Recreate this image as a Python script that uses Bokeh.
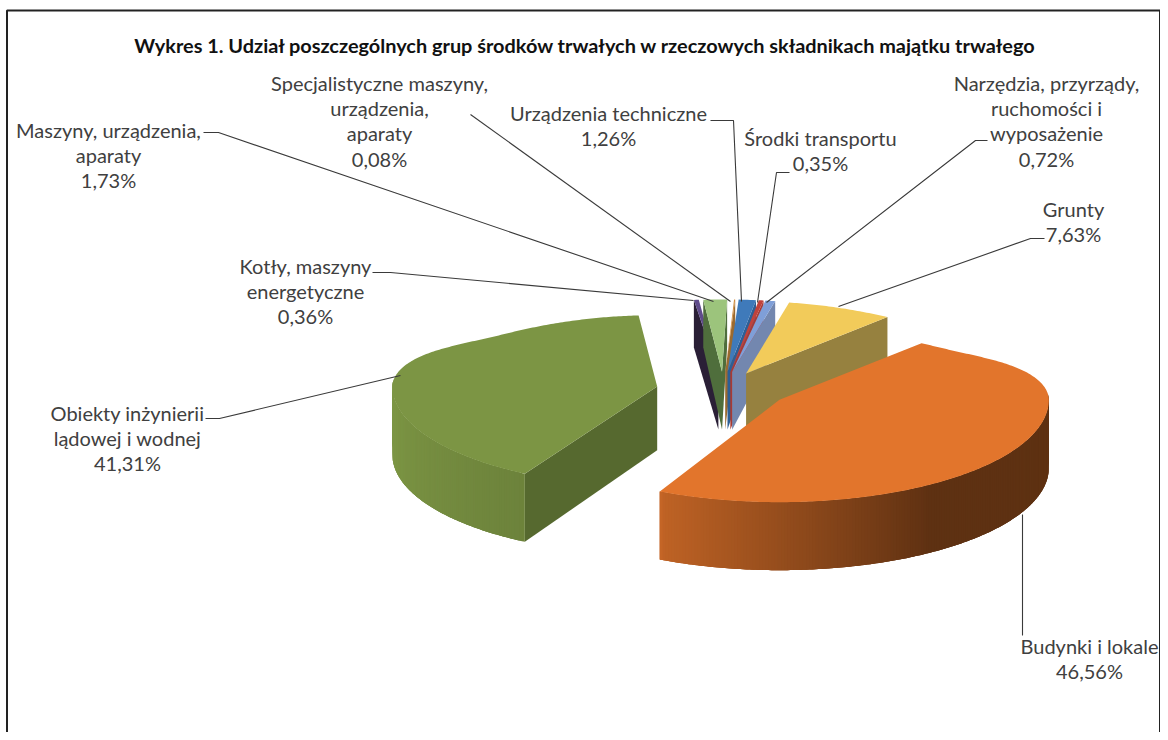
import math
from bokeh.plotting import figure
from bokeh.models import Range1d
from bokeh.core.properties import value
from bokeh.embed import file_html
from bokeh.resources import INLINE

title_text = "Wykres 1. Udział poszczególnych grup środków trwałych w rzeczowych składnikach majątku trwałego"
categories = ["Grunty", "Budynki i lokale", "Obiekty inżynierii lądowej i wodnej",
              "Kotły, maszyny energetyczne", "Maszyny, urządzenia, aparaty",
              "Specjalistyczne maszyny, urządzenia, aparaty", "Urządzenia techniczne",
              "Środki transportu", "Narzędzia, przyrządy, ruchomości i wyposażenie"]
shares = [7.63, 46.56, 41.31, 0.36, 1.73, 0.08, 1.26, 0.35, 0.72]
top_colors = ["#F2CB5A", "#E2752C", "#7C9544", "#5F4B8B", "#9CC47C", "#D08A3C", "#3F7ABA", "#C0423C", "#7F9FD8"]
cut_colors = ["#96813F", "#8A4A1C", "#56692F", "#2A1F36", "#4F6E3C", "#9A6A30", "#2D5F96", "#A83A34", "#7387AF"]

label_lines = [["Grunty", "7,63%"], ["Budynki i lokale", "46,56%"], ["Obiekty inżynierii", "lądowej i wodnej", "41,31%"],
               ["Kotły, maszyny", "energetyczne", "0,36%"], ["Maszyny, urządzenia,", "aparaty", "1,73%"],
               ["Specjalistyczne maszyny,", "urządzenia,", "aparaty", "0,08%"], ["Urządzenia techniczne", "1,26%"],
               ["Środki transportu", "0,35%"], ["Narzędzia, przyrządy,", "ruchomości i", "wyposażenie", "0,72%"]]
label_x = [1073, 1089, 127, 305, 108, 379, 608, 820, 1046]
label_y0 = [208, 645, 412, 265, 129, 82, 112, 137, 82]
leaders = [[(1044, 238), (1030, 238), (838, 306)], [(1022, 635), (1022, 514)], [(205, 418), (219, 418), (400, 375)],
           [(372, 272), (390, 272), (693, 300)], [(203, 132), (218, 132), (713, 301)], [(470, 114), (730, 301)],
           [(710, 120), (733, 120), (741, 301)], [(789, 172), (776, 172), (757, 302)], [(987, 140), (975, 140), (766, 302)]]

# projection of the tilted pie
FIRST_ANGLE = 11.3
CX, CY, R, K, EXPLODE, DEPTH = 722, 389.5, 268, 0.38, 67.6, 68
EXPLODE_K = 0.27
FAR_U, FAR_V, FAR_D = 0.18, 0.29, 0.30
# perspective correction of single slices
RIM_SCALE = [1, 1.005, 0.988, 1, 1, 1, 1, 1, 1]
START_SKEW = [0, 0, 3.6, 0, 0, 0, 0, 0, 0]
ANGLE_NUDGE = [0, 0, 0, -1.5, -1.3, -0.3, 0, 0, 0]


def smooth(x):
    x = min(1.0, max(x, 0.0))
    return x * x * (3 - 2 * x)


def su(y): return 1 - FAR_U * smooth(-y)
def sv(y): return 1 - FAR_V * smooth(-y / 0.75)


def rad(a): return math.radians(a)


def scale_color(hex_color, f):
    r, g, b = int(hex_color[1:3], 16), int(hex_color[3:5], 16), int(hex_color[5:7], 16)
    return "#%02x%02x%02x" % (int(r * f), int(g * f), int(b * f))


def shade(theta):
    t = theta % 360
    if t <= 146:
        return 0.42
    if t <= 206:
        return 0.42 + (t - 146) / 60 * 0.43
    return min(1.0, 0.87 + (t - 206) / 50 * 0.12)


slices = []
start = FIRST_ANGLE
for i, v in enumerate(shares):
    sweep = v * 3.6
    slices.append((i, start, start + sweep))
    start += sweep


def apex(mid):
    ym = -math.cos(rad(mid))
    return (CX + EXPLODE * math.sin(rad(mid)) * su(ym), CY + EXPLODE * EXPLODE_K * ym)


def rim(i, mid, th):
    ax, ay = apex(mid)
    th = th + ANGLE_NUDGE[i]
    y = -math.cos(rad(th))
    f = RIM_SCALE[i]
    return (ax + f * R * math.sin(rad(th)) * su(y), ay + f * R * K * y * sv(y))


def depth(mid, th, r):
    yt = (EXPLODE * -math.cos(rad(mid)) + r * -math.cos(rad(th))) / R
    return DEPTH * (1 - FAR_D * min(1, math.sqrt(max(-yt, 0))))


polys_x, polys_y, polys_c = [], [], []


def add(points, color):
    polys_x.append([p[0] for p in points])
    polys_y.append([p[1] for p in points])
    polys_c.append(color)


def draw_slice(i, a0, a1):
    mid = (a0 + a1) / 2
    ax, ay = apex(mid)
    a0 = a0 + START_SKEW[i]
    n = max(2, int((a1 - a0) * 1.5))
    ths = [a0 + (a1 - a0) * j / n for j in range(n + 1)]
    # radial cut faces
    for th, vis in ((a0, math.sin(rad(a0)) < 0), (a1, math.sin(rad(a1)) > 0)):
        if vis:
            x, y = rim(i, mid, th)
            da, dr = depth(mid, th, 0), depth(mid, th, R)
            add([(ax, ay), (x, y), (x, y + dr), (ax, ay + da)], cut_colors[i])
    # outer wall, each strip overlapping the next one so that no seams show
    strips = [j for j in range(n) if math.cos(rad((ths[j] + ths[j + 1]) / 2)) < 0.05]
    for j in strips:
        t0, t1 = ths[j], ths[min(j + 3, n)]
        part = [ths[j] + (t1 - t0) * q / 3 for q in range(4)]
        up = [rim(i, mid, t) for t in part]
        low = [(rim(i, mid, t)[0], rim(i, mid, t)[1] + depth(mid, t, R)) for t in reversed(part)]
        add(up + low, scale_color(top_colors[i], shade(ths[j] + 0.3)))
    # top face
    add([(ax, ay)] + [rim(i, mid, t) for t in ths], top_colors[i])


order = [3, 4, 5, 6, 7, 8, 0, 2, 1]
for i in order:
    draw_slice(*slices[i])

p = figure(width=1160, height=732, output_backend="svg", toolbar_location=None,
           x_range=Range1d(0, 1160), y_range=Range1d(732, 0),
           x_axis_type=None, y_axis_type=None, min_border=0,
           outline_line_color=None, background_fill_color="white", border_fill_color="white")
p.grid.visible = False

p.patches(polys_x, polys_y, fill_color=polys_c, line_color=None)

for pts in leaders:
    p.line([q[0] for q in pts], [q[1] for q in pts], line_color="#3a3a3a", line_width=1.1)

# chart frame
p.line([6.5, 6.5, 1159.5, 1159.5], [732, 10, 10, 732], line_color="#222222", line_width=2)

FONT = "Lato"
p.text([585], [44], text=[title_text], text_font=value(FONT), text_font_style="bold",
       text_font_size="19.9px", text_color="#111111", text_align="center", text_baseline="middle")

LINE = 25.4
tx, ty, tt = [], [], []
for lines, x, y0 in zip(label_lines, label_x, label_y0):
    for j, line in enumerate(lines):
        tx.append(x)
        ty.append(y0 + j * LINE)
        tt.append(line)
p.text(tx, ty, text=tt, text_font=value(FONT), text_font_size="20px", text_color="#404040",
       text_align="center", text_baseline="middle")

open("out.html", "w").write(file_html(p, INLINE))
